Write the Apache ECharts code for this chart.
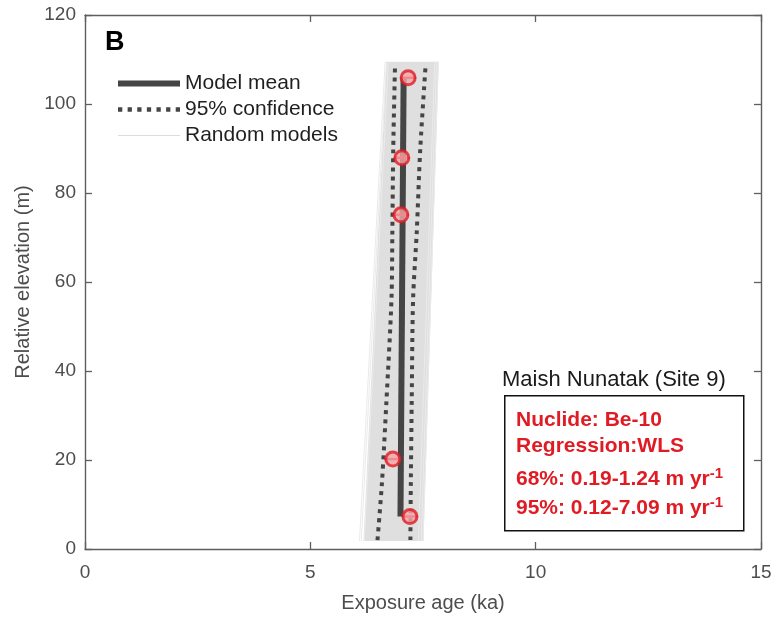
<!DOCTYPE html>
<html>
<head>
<meta charset="utf-8">
<script src="https://cdn.jsdelivr.net/npm/echarts@6/dist/echarts.min.js"></script>
<style>html,body{margin:0;padding:0;background:#fff}#c{width:778px;height:618px}</style>
</head>
<body>
<div id="c"></div>
<script>
// ---- data ----
const sampleAge  = [7.17, 7.03, 7.01, 6.83, 7.21];
const sampleElev = [105.9, 87.9, 75.1, 20.2, 7.3];
const sampleErr  = [0.17, 0.17, 0.17, 0.18, 0.17];

const meanAge  = [7.00, 7.07];
const meanElev = [7.3, 105.9];

const ciElev = [2, 15, 33.5, 56, 71, 90, 109];
const ciLow  = [6.49, 6.59, 6.69, 6.80, 6.82, 6.84, 6.88];
const ciHigh = [7.22, 7.23, 7.25, 7.28, 7.36, 7.44, 7.56];

const bandElev = [1.8, 109.5];
const bandLow  = [6.18, 6.69];
const bandHigh = [7.51, 7.85];

const randElev   = [1.8, 109.5];
const randBottom = [6.09, 6.13, 6.20, 7.40, 7.46, 7.50];
const randTop    = [6.66, 6.69, 6.73, 7.76, 7.80, 7.84];

const xMin = 0, xMax = 15, xStep = 5;
const yMin = 0, yMax = 120, yStep = 20;

const RED = '#e01b24';
const DARK = '#454545';

const chart = echarts.init(document.getElementById('c'), null, {renderer: 'canvas'});

const series = [];

// gray band of random models (filled polygon)
series.push({
  type: 'custom', name: 'band', silent: true, z: 1,
  data: [[bandLow[0], bandElev[0]]],
  renderItem: function (params, api) {
    const pts = [
      api.coord([bandLow[0], bandElev[0]]),
      api.coord([bandHigh[0], bandElev[0]]),
      api.coord([bandHigh[1], bandElev[1]]),
      api.coord([bandLow[1], bandElev[1]])
    ];
    return {type: 'polygon', shape: {points: pts}, style: {fill: '#dfdfdf', stroke: null}};
  }
});

// individual random model lines
randBottom.forEach(function (b, i) {
  series.push({
    type: 'line', name: 'Random models', z: 2, symbol: 'none', silent: true,
    data: [[b, randElev[0]], [randTop[i], randElev[1]]],
    lineStyle: {color: '#ebebeb', width: 1},
    itemStyle: {color: '#dedede'}
  });
});

// 95% confidence
series.push({
  type: 'line', name: '95% confidence', z: 3, symbol: 'none', smooth: 0.3, silent: true,
  data: ciElev.map((e, i) => [ciLow[i], e]),
  lineStyle: {color: DARK, width: 4, type: [4, 5]},
  itemStyle: {color: DARK}
});
series.push({
  type: 'line', name: '95% confidence', z: 3, symbol: 'none', smooth: 0.3, silent: true,
  data: ciElev.map((e, i) => [ciHigh[i], e]),
  lineStyle: {color: DARK, width: 4, type: [4, 5]},
  itemStyle: {color: DARK}
});

// model mean
series.push({
  type: 'line', name: 'Model mean', z: 4, symbol: 'none', silent: true,
  data: meanElev.map((e, i) => [meanAge[i], e]),
  lineStyle: {color: DARK, width: 6},
  itemStyle: {color: DARK}
});

// error bars
series.push({
  type: 'custom', name: 'err', silent: true, z: 5,
  data: sampleAge.map((a, i) => [a, sampleElev[i], sampleErr[i]]),
  renderItem: function (params, api) {
    const a = api.value(0), e = api.value(1), er = api.value(2);
    const p1 = api.coord([a - er, e]), p2 = api.coord([a + er, e]);
    return {type: 'line', shape: {x1: p1[0], y1: p1[1], x2: p2[0], y2: p2[1]},
            style: {stroke: RED, lineWidth: 2.5}};
  }
});

// samples
series.push({
  type: 'scatter', name: 'samples', z: 6, silent: true,
  data: sampleAge.map((a, i) => [a, sampleElev[i]]),
  symbol: 'circle', symbolSize: 14,
  itemStyle: {color: '#f4a6a8', borderColor: RED, borderWidth: 3}
});

const axisCommon = {
  type: 'value',
  axisLine: {show: true, onZero: false, lineStyle: {color: '#5e5e5e', width: 1.4}},
  axisTick: {show: true, inside: true, length: 7, lineStyle: {color: '#5e5e5e', width: 1.3}},
  splitLine: {show: false}
};

const dotIcon = 'path://M0,0H4V4H0Z M9,0H13V4H9Z M18,0H22V4H18Z M27,0H31V4H27Z M36,0H40V4H36Z M45,0H49V4H45Z M54,0H58V4H54Z';

const supRich = {
  n: {fontFamily: 'Liberation Sans', fontWeight: 'bold', fontSize: 21, fill: RED, color: RED, verticalAlign: 'bottom', lineHeight: 29},
  s: {fontFamily: 'Liberation Sans', fontWeight: 'bold', fontSize: 15, fill: RED, color: RED, verticalAlign: 'top', padding: [5, 0, 0, 0]}
};

const option = {
  animation: false,
  backgroundColor: '#ffffff',
  grid: {left: 85, right: 17, top: 15, bottom: 69, containLabel: false},
  xAxis: [
    Object.assign({}, axisCommon, {
      min: xMin, max: xMax, interval: xStep, position: 'bottom',
      name: 'Exposure age (ka)', nameLocation: 'middle', nameGap: 44,
      nameTextStyle: {fontFamily: 'Liberation Sans', fontSize: 20, color: '#4d4d4d'},
      axisLabel: {fontFamily: 'Liberation Sans', fontSize: 19, color: '#4d4d4d', margin: 14}
    }),
    Object.assign({}, axisCommon, {
      min: xMin, max: xMax, interval: xStep, position: 'top', axisLabel: {show: false}
    })
  ],
  yAxis: [
    Object.assign({}, axisCommon, {
      min: yMin, max: yMax, interval: yStep, position: 'left',
      name: 'Relative elevation (m)', nameLocation: 'middle', nameGap: 50,
      nameTextStyle: {fontFamily: 'Liberation Sans', fontSize: 20, color: '#4d4d4d'},
      axisLabel: {fontFamily: 'Liberation Sans', fontSize: 19, color: '#4d4d4d', margin: 9}
    }),
    Object.assign({}, axisCommon, {
      min: yMin, max: yMax, interval: yStep, position: 'right', axisLabel: {show: false}
    })
  ],
  legend: {
    show: true, orient: 'vertical', left: 118, top: 73, padding: 0,
    itemWidth: 62, itemHeight: 20, itemGap: 5, selectedMode: false,
    textStyle: {fontFamily: 'Liberation Sans', fontSize: 21, color: '#1f1f1f'},
    data: [
      {name: 'Model mean', icon: 'path://M0,0H62V6H0Z', itemStyle: {color: DARK}},
      {name: '95% confidence', icon: dotIcon, itemStyle: {color: DARK}},
      {name: 'Random models', icon: 'path://M0,0H62V1H0Z', itemStyle: {color: '#dcdcdc'}}
    ]
  },
  graphic: [
    {type: 'text', left: 105, top: 29, z: 10,
     style: {text: 'B', fontFamily: 'Liberation Sans', fontWeight: 'bold', fontSize: 27, fill: '#000'}},
    {type: 'text', left: 502, top: 369, z: 10,
     style: {text: 'Maish Nunatak (Site 9)', fontFamily: 'Liberation Sans', fontSize: 22, fill: '#1a1a1a'}},
    {type: 'rect', left: 504, top: 395, z: 10,
     shape: {width: 239, height: 135},
     style: {fill: '#fff', stroke: '#111', lineWidth: 1.5}},
    {type: 'text', left: 516, top: 410, z: 11,
     style: {text: 'Nuclide: Be-10', fontFamily: 'Liberation Sans', fontWeight: 'bold', fontSize: 21, fill: RED}},
    {type: 'text', left: 516, top: 436, z: 11,
     style: {text: 'Regression:WLS', fontFamily: 'Liberation Sans', fontWeight: 'bold', fontSize: 21, fill: RED}},
    {type: 'text', left: 516, top: 466, z: 11,
     style: {text: '{n|68%: 0.19-1.24 m yr}{s|-1}', rich: supRich}},
    {type: 'text', left: 516, top: 495, z: 11,
     style: {text: '{n|95%: 0.12-7.09 m yr}{s|-1}', rich: supRich}}
  ],
  series: series
};

chart.setOption(option);
</script>
</body>
</html>
